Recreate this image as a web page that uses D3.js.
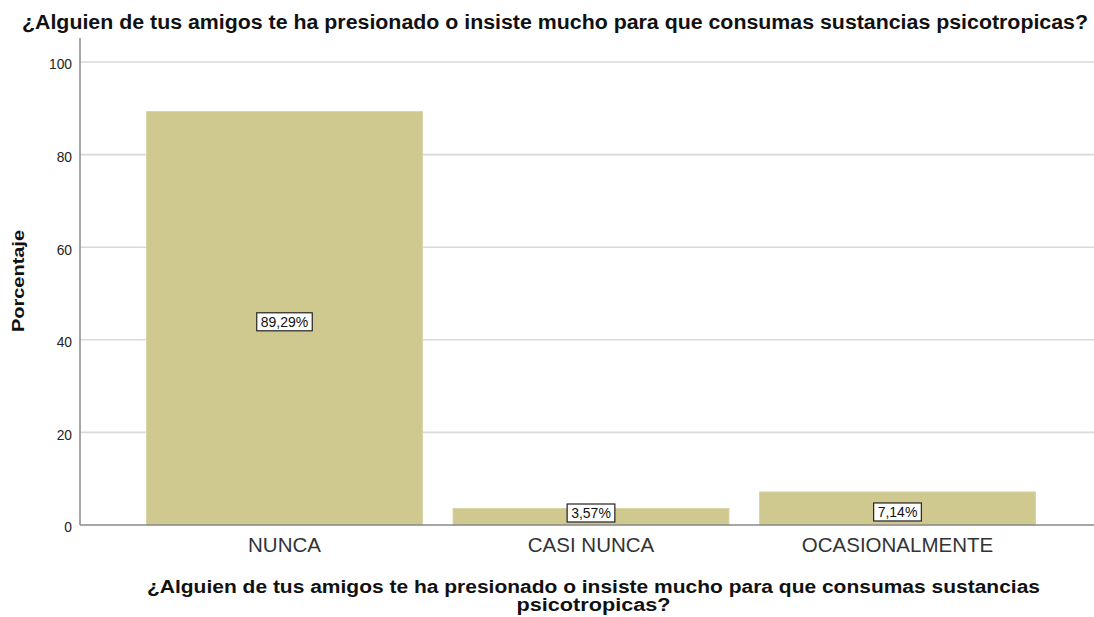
<!DOCTYPE html>
<html><head><meta charset="utf-8">
<script src="https://cdn.jsdelivr.net/npm/d3@7"></script>
<style>body{margin:0;background:#fff}svg{display:block}text{font-family:"Liberation Sans",Arial,sans-serif}</style>
</head><body>
<svg id="c" width="1094" height="617"></svg>
<script>
const categories = ["NUNCA", "CASI NUNCA", "OCASIONALMENTE"];
const values = [89.29, 3.57, 7.14];
const valueLabels = ["89,29%", "3,57%", "7,14%"];
const yTicks = [0, 20, 40, 60, 80, 100];
const title = "¿Alguien de tus amigos te ha presionado o insiste mucho para que consumas sustancias psicotropicas?";
const xTitleLines = ["¿Alguien de tus amigos te ha presionado o insiste mucho para que consumas sustancias", "psicotropicas?"];
const yTitle = "Porcentaje";

(function () {
const svg = d3.select("#c");
const mLeft = 80, mRight = 1094, mTop = 38, mBottom = 525;
const y = d3.scaleLinear().domain([0, 100]).range([525, 62]);
const x = d3.scaleBand().domain(categories).range([131.25, 1050.75]).paddingInner(0.1).paddingOuter(0.05);

svg.append("g").selectAll("line").data(yTicks.filter(d => d > 0)).join("line")
  .attr("x1", mLeft).attr("x2", mRight).attr("y1", d => y(d)).attr("y2", d => y(d))
  .attr("stroke", "#d9d9d9").attr("stroke-width", 1.6);

svg.append("g").selectAll("rect").data(values).join("rect")
  .attr("x", (d, i) => x(categories[i])).attr("width", x.bandwidth())
  .attr("y", d => y(d)).attr("height", d => y(0) - y(d))
  .attr("fill", "#cfc98f").attr("stroke", "#d8d3a3").attr("stroke-width", 1);

const yAxis = d3.axisLeft(y).tickValues(yTicks).tickSize(0).tickPadding(8);
const ga = svg.append("g").attr("transform", `translate(${mLeft},0)`).call(yAxis);
ga.select(".domain").remove();
ga.selectAll("text").attr("font-size", 13.8).attr("fill", "#222").attr("dy", "0.5em");
svg.append("line").attr("x1", mLeft).attr("x2", mLeft).attr("y1", mTop).attr("y2", mBottom)
  .attr("stroke", "#888").attr("stroke-width", 1.5);
svg.append("line").attr("x1", mLeft).attr("x2", mRight).attr("y1", mBottom).attr("y2", mBottom)
  .attr("stroke", "#888").attr("stroke-width", 1.5);

const xAxis = d3.axisBottom(x).tickSize(0).tickPadding(12);
const gx = svg.append("g").attr("transform", `translate(0,${mBottom})`).call(xAxis);
gx.select(".domain").remove();
gx.selectAll("text").attr("font-size", 20.5).attr("fill", "#333");

const lg = svg.append("g");
values.forEach((v, i) => {
  const cx = x(categories[i]) + x.bandwidth() / 2;
  let cy = y(v / 2) + 3.5;
  const h = 18;
  if (cy + h / 2 > 522) cy = 522 - h / 2;
  const t = lg.append("text").attr("x", cx).attr("y", cy + 5).attr("text-anchor", "middle")
    .attr("font-size", 14).attr("fill", "#111").text(valueLabels[i]);
  const w = t.node().getComputedTextLength() + 8;
  lg.insert("rect", "text").attr("x", cx - w / 2).attr("y", cy - h / 2).attr("width", w).attr("height", h)
    .attr("fill", "#fff").attr("stroke", "#222").attr("stroke-width", 1.2);
});

svg.append("text").attr("x", 555).attr("y", 29).attr("text-anchor", "middle")
  .attr("font-size", 19.5).attr("font-weight", "bold").attr("fill", "#111")
  .attr("textLength", 1066).attr("lengthAdjust", "spacingAndGlyphs").text(title);
svg.append("text").attr("transform", "translate(24,281) rotate(-90)").attr("text-anchor", "middle")
  .attr("font-size", 16).attr("font-weight", "bold").attr("fill", "#111")
  .attr("textLength", 102).attr("lengthAdjust", "spacingAndGlyphs").text(yTitle);
const xtLen = [893, 154];
xTitleLines.forEach((l, i) => {
  svg.append("text").attr("x", 593.5).attr("y", 593 + i * 18).attr("text-anchor", "middle")
    .attr("font-size", 18).attr("font-weight", "bold").attr("fill", "#111")
    .attr("textLength", xtLen[i]).attr("lengthAdjust", "spacingAndGlyphs").text(l);
});
})();
</script>
</body></html>
